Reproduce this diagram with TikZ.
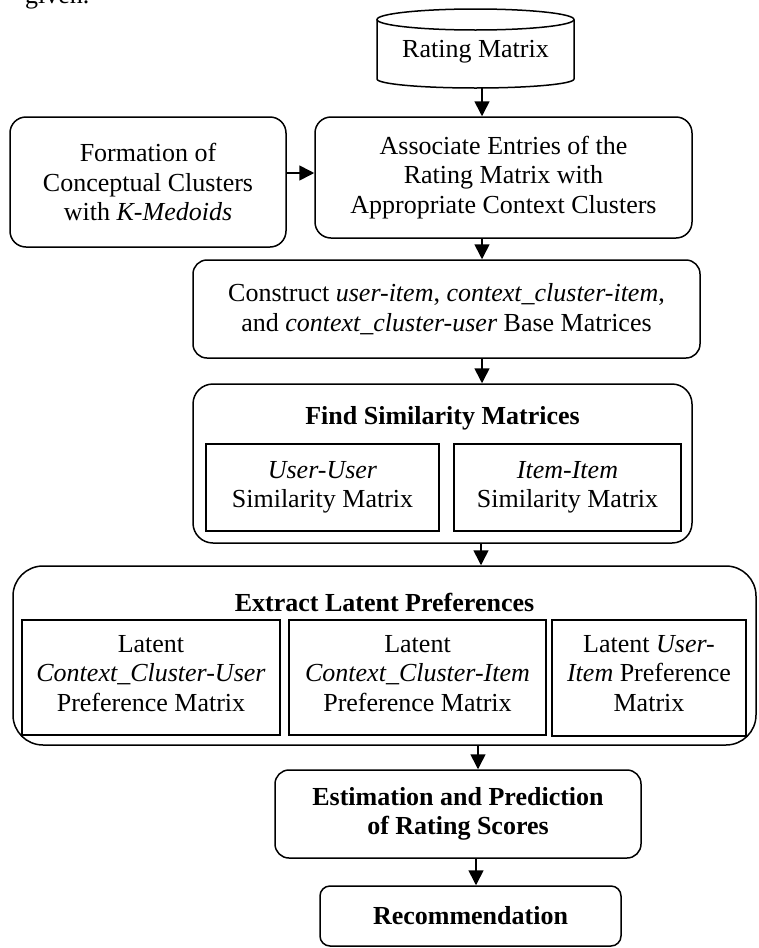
\documentclass[tikz,border=0pt]{standalone}
\usepackage{fontspec}
\setmainfont{Liberation Serif}
\usetikzlibrary{arrows.meta,calc}
\tikzset{
  box/.style={draw, line width=1.5pt, rounded corners=16pt, align=center, inner sep=0pt},
  inbox/.style={draw, line width=1.9pt, align=center, inner sep=0pt},
  plain/.style={align=center, inner sep=0pt},
  arr/.style={-{Triangle[length=15pt,width=15pt]}, line width=1.6pt},
}
\begin{document}
\begin{tikzpicture}[x=1pt,y=1pt,font=\fontsize{26}{29.5}\selectfont]
\useasboundingbox (0,0) rectangle (759,-948);
% fragment of the surrounding text
\node[anchor=base west, inner sep=0pt] (given) at (25,-3) {given.};
% cylinder
\node[plain, minimum width=197pt, minimum height=79pt] (cyl) at (475.5,-48.5) {};
\draw[line width=1.5pt] (377,-19.5) -- (377,-79)
  arc[start angle=180, end angle=360, x radius=98.5pt, y radius=9pt] -- (574,-19.5);
\draw[line width=1.5pt] (475.5,-19.5) ellipse[x radius=98.5pt, y radius=10.5pt];
\node[plain] (cylt) at (475.5,-52) {Rating Matrix};
% boxes
\node[box, minimum width=276pt, minimum height=130pt] (form) at (148,-182)
  {Formation of\\Conceptual Clusters\\with \textit{K-Medoids}};
\node[box, minimum width=377pt, minimum height=121pt] (assoc) at (503.5,-177.5)
  {Associate Entries of the\\Rating Matrix with\\Appropriate Context Clusters};
\node[box, rounded corners=14pt, minimum width=507pt, minimum height=98pt] (constr) at (446.5,-309)
  {Construct \textit{user-item}, \textit{context\_cluster-item},\\and \textit{context\_cluster-user} Base Matrices};
\node[box, rounded corners=20pt, minimum width=499pt, minimum height=159pt] (find) at (442.5,-463.5) {};
\node[plain, font=\fontsize{26}{29.5}\selectfont\bfseries] (findt) at (442.5,-418) {Find Similarity Matrices};
\node[inbox, minimum width=233pt, minimum height=87pt] (uu) at (322.5,-487.5)
  {\textit{User-User}\\Similarity Matrix};
\node[inbox, minimum width=227pt, minimum height=87pt] (ii) at (567.5,-487.5)
  {\textit{Item-Item}\\Similarity Matrix};
\node[box, rounded corners=30pt, minimum width=743pt, minimum height=179pt] (extr) at (384.5,-655.5) {};
\node[plain, font=\fontsize{26}{29.5}\selectfont\bfseries] (extrt) at (384.5,-602) {Extract Latent Preferences};
\node[inbox, minimum width=258pt, minimum height=115pt] (l1) at (151,-677.5) {};
\node[plain] (l1t) at (151,-673.5)
  {Latent\\\textit{Context\_Cluster-User}\\Preference Matrix};
\node[inbox, minimum width=257pt, minimum height=115pt] (l2) at (417.5,-677.5) {};
\node[plain] (l2t) at (417.5,-673.5)
  {Latent\\\textit{Context\_Cluster-Item}\\Preference Matrix};
\node[inbox, minimum width=194pt, minimum height=116pt] (l3) at (649,-678) {};
\node[plain] (l3t) at (649,-673.5)
  {Latent \textit{User-}\\\textit{Item} Preference\\Matrix};
\node[box, rounded corners=14pt, minimum width=366pt, minimum height=88pt, font=\fontsize{26}{29.5}\selectfont\bfseries] (est) at (458,-814)
  {Estimation and Prediction\\of Rating Scores};
\node[box, rounded corners=10pt, minimum width=301pt, minimum height=60pt, font=\fontsize{26}{29.5}\selectfont\bfseries] (rec) at (470.5,-916)
  {Recommendation};
% connectors
\draw[arr] ([xshift=6.5pt]cyl.south) -- ([xshift=6.5pt]cyl.south |- assoc.north);
\draw[arr] ([yshift=9pt]form.east) -- ([yshift=9pt]form.east -| assoc.west);
\draw[arr] ([xshift=-21.5pt]assoc.south) -- ([xshift=-21.5pt]assoc.south |- constr.north);
\draw[arr] ([xshift=35.5pt]constr.south) -- ([xshift=35.5pt]constr.south |- find.north);
\draw[arr] ([xshift=38.5pt]find.south) -- ([xshift=38.5pt]find.south |- extr.north);
\draw[arr] ([xshift=93.5pt]extr.south) -- ([xshift=93.5pt]extr.south |- est.north);
\draw[arr] ([xshift=18pt]est.south) -- ([xshift=18pt]est.south |- rec.north);
\end{tikzpicture}
\end{document}
